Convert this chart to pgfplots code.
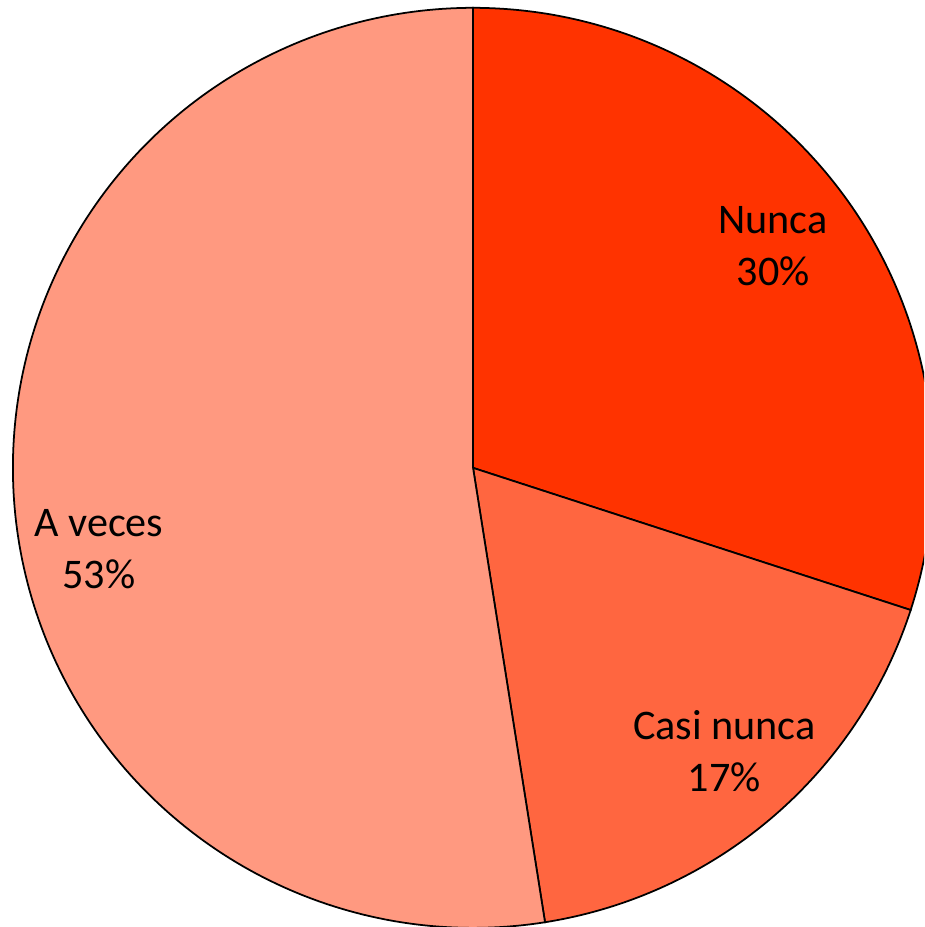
\documentclass[border=0pt]{standalone}
\usepackage{pgfplots}
\pgfplotsset{compat=1.18}
\usepackage{fontspec}
\setmainfont{Carlito}
\definecolor{cA}{RGB}{255,51,0}
\definecolor{cB}{RGB}{255,102,64}
\definecolor{cC}{RGB}{255,153,128}
% values (percent): Nunca, Casi nunca, A veces
\def\vA{30}
\def\vB{17.5}
\def\vC{52.5}
\begin{document}
\begin{tikzpicture}
\begin{axis}[
  scale only axis, width=9.24cm, height=9.27cm,
  xmin=-1.028, xmax=0.980, ymin=-0.998, ymax=1.017,
  hide axis, clip=true,
]
\pgfmathsetmacro{\aS}{90}
\pgfmathsetmacro{\aA}{90-3.6*\vA}
\pgfmathsetmacro{\aB}{\aA-3.6*\vB}
\pgfmathsetmacro{\aC}{\aB-3.6*\vC}
\addplot[fill=cA, draw=black, line width=0.5pt, domain=\aS:\aA, samples=120] ({cos(x)},{sin(x)}) -- (0,0) -- cycle;
\addplot[fill=cB, draw=black, line width=0.5pt, domain=\aA:\aB, samples=80] ({cos(x)},{sin(x)}) -- (0,0) -- cycle;
\addplot[fill=cC, draw=black, line width=0.5pt, domain=\aB:\aC, samples=200] ({cos(x)},{sin(x)}) -- (0,0) -- cycle;
\node[align=center, font=\fontsize{12}{14.8}\selectfont] at (0.652,0.483) {Nunca\\30\%};
\node[align=center, font=\fontsize{12}{14.8}\selectfont] at (0.546,-0.615) {Casi nunca\\17\%};
\node[align=center, font=\fontsize{12}{14.8}\selectfont] at (-0.813,-0.176) {A veces\\53\%};
\end{axis}
\pgfresetboundingbox
\path (current axis.south west) rectangle (current axis.north east);
\end{tikzpicture}
\end{document}
